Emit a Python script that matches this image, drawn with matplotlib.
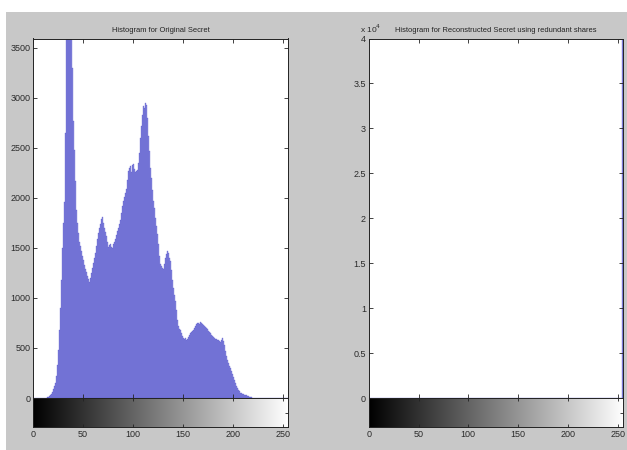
import numpy as np
import matplotlib
matplotlib.use("Agg")
import matplotlib.pyplot as plt
from matplotlib.patches import Rectangle

# ---------------- data ----------------
bins = list(range(256))

# Original secret histogram counts (bins 0..255)
orig_counts = (
    [0] * 14 +
    [5, 10, 15, 25, 40, 60, 85, 115, 150, 220,            # 14-23
     330, 480, 680, 900, 1180, 1500, 1750, 1960, 2650, 3700,  # 24-33
     4200, 4500, 4300, 3900, 3650, 3300, 2770, 2480, 2170, 1880,  # 34-43
     1750, 1650, 1560, 1520, 1470, 1420, 1380, 1330, 1290, 1260,  # 44-53
     1220, 1190, 1160, 1200, 1250, 1300, 1350, 1400, 1450, 1520,  # 54-63
     1590, 1650, 1700, 1740, 1790, 1805, 1750, 1700, 1660, 1620,  # 64-73
     1560, 1510, 1530, 1540, 1510, 1500, 1540, 1555, 1590, 1630,  # 74-83
     1670, 1700, 1740, 1780, 1850, 1920, 1970, 2010, 2050, 2090,  # 84-93
     2180, 2270, 2300, 2320, 2260, 2330, 2340, 2290, 2260, 2270,  # 94-103
     2280, 2350, 2450, 2600, 2720, 2830, 2920, 2900, 2950, 2930,  # 104-113
     2800, 2620, 2470, 2300, 2200, 2080, 1970, 1900, 1800, 1720,  # 114-123
     1640, 1540, 1420, 1340, 1320, 1300, 1290, 1340, 1400, 1440,  # 124-133
     1470, 1450, 1400, 1370, 1280, 1180, 1100, 1030, 970, 880,    # 134-143
     780, 720, 690, 680, 650, 620, 600, 590, 600, 580,            # 144-153
     590, 610, 630, 645, 660, 670, 680, 700, 720, 740,            # 154-163
     745, 750, 740, 755, 745, 735, 730, 720, 710, 700,            # 164-173
     690, 670, 655, 645, 630, 620, 610, 600, 590, 585,            # 174-183
     580, 575, 570, 560, 580, 600, 570, 530, 470, 420,            # 184-193
     380, 350, 320, 300, 270, 240, 210, 180, 150, 120,            # 194-203
     100, 80, 65, 53, 45, 40, 35, 32, 30, 25,                     # 204-213
     20, 15, 12, 10, 6, 3] +                                      # 214-219
    [0] * 36
)

# Reconstructed secret histogram counts: everything at 255
recon_counts = [0] * 255 + [262144]

orig_yticks = [0, 500, 1000, 1500, 2000, 2500, 3000, 3500]
recon_yticks = [0, 5000, 10000, 15000, 20000, 25000, 30000, 35000, 40000]
recon_yticklabels = ["0", "0.5", "1", "1.5", "2", "2.5", "3", "3.5", "4"]
xticks = [0, 50, 100, 150, 200, 250]

title_left = "Histogram for Original Secret"
title_right = "Histogram for Reconstructed Secret using redundant shares"

# ---------------- style ----------------
W, H = 627, 450
fig = plt.figure(figsize=(W / 100, H / 100), dpi=100, facecolor="white")
fig.patches.append(Rectangle((6 / W, 0), 1 - 6 / W, 1 - 12 / H,
                             transform=fig.transFigure, facecolor="#c8c8c8",
                             edgecolor="none", zorder=-10))

fam = ["Liberation Sans", "DejaVu Sans"]
title_font = dict(family=fam, size=5.4)
txtcolor = "#2a2a2a"
barface = "#8e8edc"
baredge = "#4848cc"


def px_axes(x0, y0, x1, y1):
    return fig.add_axes([x0 / W, 1 - y1 / H, (x1 - x0) / W, (y1 - y0) / H])


def style_axes(ax):
    ax.tick_params(direction="in", length=3, width=0.6, colors="#222222",
                   top=True, right=True, labelsize=6.5, pad=2)
    for s in ax.spines.values():
        s.set_linewidth(0.7)
        s.set_color("#222222")
    for lab in ax.get_yticklabels() + ax.get_xticklabels():
        lab.set_fontfamily(fam)
        lab.set_color(txtcolor)


def draw_panel(xl, xr, counts, ylim, yticks, yticklabels, title):
    ax = px_axes(xl, 38.5, xr, 398)
    ax.bar(bins, counts, width=1.0, facecolor=barface, edgecolor=baredge,
           linewidth=0.2, align="center")
    ax.set_xlim(0, 255)
    ax.set_ylim(0, ylim)
    ax.set_xticks(xticks)
    ax.set_xticklabels([])
    ax.set_yticks(yticks)
    ax.set_yticklabels(yticklabels)
    ax.set_facecolor("white")
    style_axes(ax)
    ax.set_title(title, fontdict=title_font, color="#222222", pad=5)

    cax = px_axes(xl, 398, xr, 427)
    grad = np.linspace(0, 255, 256).reshape(1, -1)
    cax.imshow(grad, cmap="gray", aspect="auto", extent=[0, 255, 0, 1],
               vmin=0, vmax=255, interpolation="bilinear")
    cax.set_xlim(0, 255)
    cax.set_ylim(0, 1)
    cax.set_xticks(xticks)
    cax.set_xticklabels([str(t) for t in xticks])
    cax.set_yticks([0.5])
    cax.set_yticklabels([])
    style_axes(cax)
    cax.tick_params(left=False, length=2.5)
    return ax, cax


axL, caxL = draw_panel(33, 288, orig_counts, 3590, orig_yticks,
                       [str(t) for t in orig_yticks], title_left)
axR, caxR = draw_panel(368.7, 622.7, recon_counts, 40000, recon_yticks,
                       recon_yticklabels, title_right)

axR.text(-0.035, 1.01, r"x 10$^4$", transform=axR.transAxes, ha="left",
         va="bottom", fontsize=6, family=fam, color=txtcolor)

fig.savefig("out.png", dpi=100, facecolor=fig.get_facecolor())
